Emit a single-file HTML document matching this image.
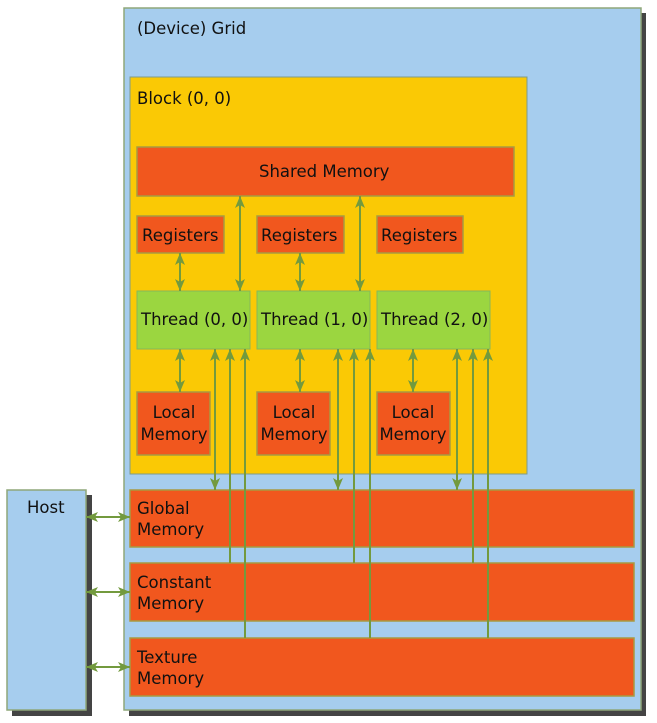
<!DOCTYPE html>
<html><head><meta charset="utf-8"><style>
html,body{margin:0;padding:0;background:#fff;}
svg{display:block;}
text{font-family:"DejaVu Sans","Liberation Sans",sans-serif;font-size:16.5px;fill:#111;}
</style></head><body>
<svg width="657" height="723" viewBox="0 0 657 723" xmlns="http://www.w3.org/2000/svg">
<defs>
<marker id="a" viewBox="0 0 12 10" refX="12" refY="5" markerWidth="12" markerHeight="10" markerUnits="userSpaceOnUse" orient="auto-start-reverse">
<path d="M0,0 L12,5 L0,10 L3,5 Z" fill="#739a3e"/>
</marker>
</defs>
<rect x="12" y="495" width="80" height="221" fill="#444"/>
<rect x="129" y="13" width="517" height="703" fill="#444"/>
<rect x="7" y="490" width="79" height="220" fill="#a6cdee" stroke="#8fa77a" stroke-width="1.5"/>
<text x="27" y="513">Host</text>
<rect x="124" y="8" width="517" height="702" fill="#a6cdee" stroke="#8fa77a" stroke-width="1.5"/>
<text x="137" y="34">(Device) Grid</text>
<rect x="130" y="77" width="397" height="397" fill="#fac905" stroke="#7d9a8a" stroke-width="1"/>
<text x="137" y="104">Block (0, 0)</text>
<g fill="#f1571e" stroke="#a89a40" stroke-width="1.5">
<rect x="137" y="147" width="377" height="49"/>
<rect x="137" y="216" width="87" height="37"/>
<rect x="257" y="216" width="87" height="37"/>
<rect x="377" y="216" width="86" height="37"/>
<rect x="137" y="392" width="73" height="63"/>
<rect x="257" y="392" width="73" height="63"/>
<rect x="377" y="392" width="73" height="63"/>
<rect x="130" y="490" width="504" height="57"/>
<rect x="130" y="563" width="504" height="58"/>
<rect x="130" y="638" width="504" height="58"/>
</g>
<g fill="#9bd640" stroke="#85b85a" stroke-width="1">
<rect x="137" y="291" width="113" height="58"/>
<rect x="257" y="291" width="113" height="58"/>
<rect x="377" y="291" width="113" height="58"/>
</g>
<text x="259" y="177">Shared Memory</text>
<text x="142" y="241">Registers</text>
<text x="261" y="241">Registers</text>
<text x="381" y="241">Registers</text>
<text x="141" y="325">Thread (0, 0)</text>
<text x="261" y="325">Thread (1, 0)</text>
<text x="381" y="325">Thread (2, 0)</text>
<g text-anchor="middle">
<text x="174" y="418">Local</text><text x="174" y="440">Memory</text>
<text x="294" y="418">Local</text><text x="294" y="440">Memory</text>
<text x="413" y="418">Local</text><text x="413" y="440">Memory</text>
</g>
<text x="137" y="514">Global</text><text x="137" y="535">Memory</text>
<text x="137" y="588">Constant</text><text x="137" y="609">Memory</text>
<text x="137" y="663">Texture</text><text x="137" y="684">Memory</text>
<g stroke="#739a3e" stroke-width="2" fill="none">
<g marker-start="url(#a)" marker-end="url(#a)">
<line x1="180" y1="253" x2="180" y2="291"/>
<line x1="300" y1="253" x2="300" y2="291"/>
<line x1="240" y1="196" x2="240" y2="291"/>
<line x1="360" y1="196" x2="360" y2="291"/>
<line x1="180" y1="349" x2="180" y2="392"/>
<line x1="300" y1="349" x2="300" y2="392"/>
<line x1="413" y1="349" x2="413" y2="392"/>
<line x1="215" y1="349" x2="215" y2="490"/>
<line x1="338" y1="349" x2="338" y2="490"/>
<line x1="457" y1="349" x2="457" y2="490"/>
<line x1="86" y1="517" x2="130" y2="517"/>
<line x1="86" y1="592" x2="130" y2="592"/>
<line x1="86" y1="667" x2="130" y2="667"/>
</g>
<g marker-end="url(#a)">
<line x1="230" y1="563" x2="230" y2="349"/>
<line x1="245" y1="638" x2="245" y2="349"/>
<line x1="354" y1="563" x2="354" y2="349"/>
<line x1="370" y1="638" x2="370" y2="349"/>
<line x1="473" y1="563" x2="473" y2="349"/>
<line x1="488" y1="638" x2="488" y2="349"/>
</g>
</g>
</svg>
</body></html>
